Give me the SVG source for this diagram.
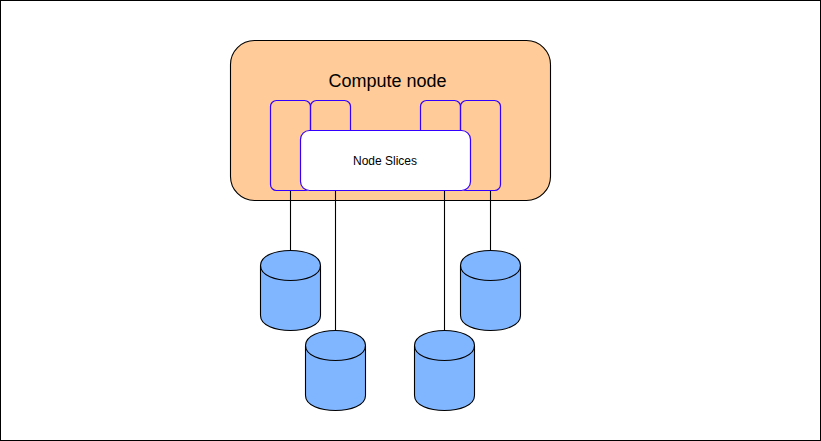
<svg xmlns="http://www.w3.org/2000/svg" width="821" height="441" viewBox="0 0 821 441">
<style>
text{font-family:"Liberation Sans",Arial,sans-serif;fill:#000;text-anchor:middle}
.slice{fill:none;stroke:#3300ff;stroke-width:1.2}
.conn{stroke:#000;stroke-width:1.1;fill:none}
.cyl{fill:#80b5ff;stroke:#000;stroke-width:1.1}
.rim{fill:none;stroke:#000;stroke-width:1.1}
</style>
<defs>
<g id="cylinder">
<path class="cyl" d="M0 15C0 -5 60 -5 60 15V65C60 85 0 85 0 65Z"/>
<path class="rim" d="M0 15C0 35 60 35 60 15"/>
</g>
</defs>
<rect id="frame" x="0.5" y="0.5" width="820" height="440" fill="#fff" stroke="#000"/>
<g id="compute-node">
<rect x="230.500" y="40.500" width="320" height="160" rx="24" fill="#ffcc99" stroke="#000" stroke-width="1.1"/>
<text x="387.500" y="86.500" font-size="18">Compute node</text>
</g>
<g id="connectors">
<path class="conn" d="M290.500 190.500V250.500"/>
<path class="conn" d="M335.500 190.500V330.500"/>
<path class="conn" d="M444.500 190.500V330.500"/>
<path class="conn" d="M490.500 190.500V250.500"/>
</g>
<g id="slice-1"><rect class="slice" x="270.500" y="100.500" width="40" height="90" rx="6"/></g>
<g id="slice-2"><rect class="slice" x="310.500" y="100.500" width="40" height="90" rx="6"/></g>
<g id="slice-3"><rect class="slice" x="420.500" y="100.500" width="40" height="90" rx="6"/></g>
<g id="slice-4"><rect class="slice" x="460.500" y="100.500" width="40" height="90" rx="6"/></g>
<g id="node-slices">
<rect x="300.500" y="130.500" width="170" height="60" rx="9" fill="#fff" stroke="#3300ff" stroke-width="1.2"/>
<text x="385" y="165" font-size="12">Node Slices</text>
</g>
<g id="disk-1"><use href="#cylinder" x="260.500" y="250.500"/></g>
<g id="disk-2"><use href="#cylinder" x="305.500" y="330.500"/></g>
<g id="disk-3"><use href="#cylinder" x="414.500" y="330.500"/></g>
<g id="disk-4"><use href="#cylinder" x="460.500" y="250.500"/></g>
</svg>
